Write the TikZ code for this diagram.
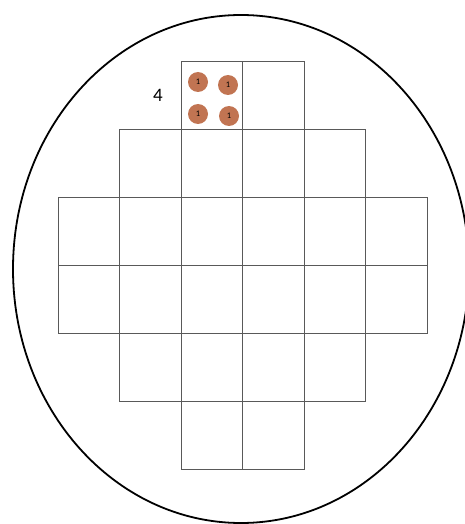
\documentclass[tikz,border=0pt]{standalone}
\usepackage{fontspec}
\setmainfont{Carlito}
\usepackage{tikz}
\usetikzlibrary{positioning}
\definecolor{chipbrown}{RGB}{193,116,82}
\begin{document}
\begin{tikzpicture}[x=1pt, y=-1pt,
  cell/.style={draw=gray!70!black, line width=0.8pt},
  chip/.style={circle, fill=chipbrown, minimum size=20pt, inner sep=0pt, font=\fontsize{8.5}{8.5}\selectfont},
  count/.style={font=\fontsize{19}{19}\selectfont, inner sep=0pt}]
\useasboundingbox (0,0) rectangle (465,524);
\clip (0,0) rectangle (465,524);
% wafer outline
\draw[line width=1.8pt] (241,269) ellipse [x radius=228, y radius=254];
% grid of fields, row / first column / last column
\foreach \r/\a/\b in {0/2/3, 1/1/4, 2/0/5, 3/0/5, 4/1/4, 5/2/3}
  \foreach \c in {\a,...,\b}
    \draw[cell] (58+61.5*\c, 61+68*\r) rectangle +(61.5,68);
% chips in the top-left field
\node[chip] (c1) at (198,82) {1};
\node[chip] (c2) at (228,85) {1};
\node[chip] (c3) at (198,114) {1};
\node[chip] (c4) at (229,116) {1};
\node[count] (n) at (158,95) {4};
\end{tikzpicture}
\end{document}
